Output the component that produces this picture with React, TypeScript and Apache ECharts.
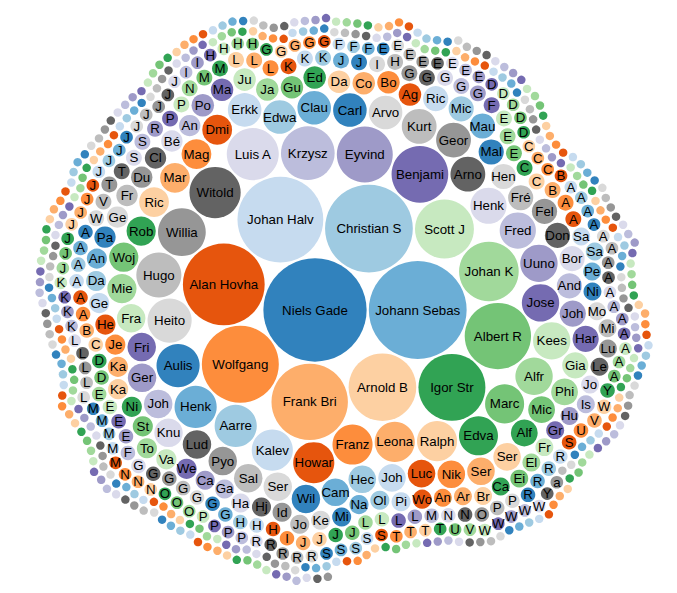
import React, { useEffect, useRef } from "react";
import * as echarts from "echarts";

// Category20c palette, applied by rank
const palette = [
  "#3182bd", "#6baed6", "#9ecae1", "#c6dbef",
  "#e6550d", "#fd8d3c", "#fdae6b", "#fdd0a2",
  "#31a354", "#74c476", "#a1d99b", "#c7e9c0",
  "#756bb1", "#9e9ac8", "#bcbddc", "#dadaeb",
  "#636363", "#969696", "#bdbdbd", "#d9d9d9",
];

// Labelled bubbles, in descending order of size (truncated names as shown)
const bigNames = [
  "Niels Gade", "Johann Sebas", "Christian S", "Johan Halv", "Alan Hovha", "Wolfgang", "Frank Bri", "Arnold B", "Igor Str", "Albert R",
  "Johan K", "Scott J", "Benjami", "Eyvind", "Krzysz", "Luis A", "Witold", "Willia", "Hugo", "Heito",
  "Aulis", "Henk", "Aarre", "Kalev", "Howar", "Franz", "Leona", "Ralph", "Edva", "Marc",
  "Alfr", "Kees", "Jose", "Uuno", "Fred", "Henk", "Arno", "Geor", "Kurt", "Arvo",
  "Carl", "Clau", "Edwa", "Erkk", "Dmi", "Mag", "Mar", "Ric", "Rob", "Woj",
  "Mie", "Fra", "Fri", "Ger", "Joh", "Knu", "Lud", "Pyo", "Sal", "Ser",
  "Wil", "Cam", "Hec", "Joh", "Luc", "Nik", "Ser", "Ser", "Alf", "Mic",
  "Phi", "Gia", "Har", "Joh", "And", "Bor", "Don", "Fel", "Fré", "Hen",
  "Mal", "Mau", "Mic", "Ric", "Ag", "Bo", "Co", "Da", "Ed", "Gu",
  "Ja", "Ju", "Ma", "Po", "An", "Bé", "Cl", "Du", "Fr", "Ge",
  "Pa", "An", "Da", "Ge", "He", "Je", "Ka", "Ka", "Ni", "St",
  "To", "Va", "We", "Ca", "Ga", "Ha", "Hj", "Id", "Jo", "Ke",
  "Mi", "Na", "Ol", "Pi", "Wo", "An", "Ar", "Br", "Ca", "Ei",
  "El", "Fr", "Gr", "Hu", "Is", "Jo", "Le", "Lu", "Mi", "Mo",
  "Ni", "Pe", "Sa", "Sa",
];
const bigValues = [
  126, 113, 91, 87, 79, 70, 69, 54, 53, 52,
  42, 41, 38, 37, 34, 32, 31, 27, 24, 23,
  22, 21, 21, 20, 20, 19, 19, 19, 18, 18,
  16.5, 16.5, 16.5, 16.5, 15.5, 15.5, 14.3, 14.3, 14.3, 13.3,
  13.3, 13.3, 13.3, 13.3, 10.5, 10.5, 10.5, 10.5, 10.1, 10.1,
  10.1, 9.6, 9.6, 9.6, 9.6, 9.6, 9.6, 9.6, 9.6, 9.6,
  9.6, 9.0, 9.0, 9.0, 9.0, 9.0, 9.0, 9.0, 8.5, 8.5,
  8.5, 8.1, 8.1, 8.1, 7.5, 7.5, 7.5, 7.5, 7.5, 7.5,
  7.5, 7.5, 7.5, 7.5, 6.0, 6.0, 6.0, 6.0, 6.0, 6.0,
  6.0, 6.0, 6.0, 6.0, 5.4, 5.4, 5.4, 5.4, 5.4, 5.4,
  5.4, 4.8, 4.8, 4.8, 4.8, 4.8, 4.8, 4.8, 4.8, 4.8,
  4.8, 4.8, 4.8, 4.3, 4.3, 4.3, 4.3, 4.3, 4.3, 4.3,
  4.3, 4.3, 4.3, 4.3, 4.3, 3.8, 3.8, 3.8, 3.8, 3.8,
  3.8, 3.8, 3.8, 3.8, 3.8, 3.8, 3.8, 3.8, 3.8, 3.8,
  3.8, 3.8, 3.8, 3.8,
];

// Single-letter tiers (all bubbles in a tier share one value)
const tierA1Names = ["A", "A", "B", "C", "C", "E", "E", "E", "F", "G", "G", "G", "G", "G", "H", "I", "J", "J", "K", "K", "K", "L", "L", "L", "M", "M", "N", "P", "P", "R", "S", "S", "T", "T", "V", "W"];
const tierA1Value = 3.0;
const tierA2Names = ["A", "A", "A", "A", "A", "A", "B", "C", "D", "D", "E", "E", "E", "E", "F", "G", "G", "G", "G", "G", "G", "G", "H", "H", "H", "I", "J", "J", "J", "J", "L", "L", "L", "L", "M", "N", "N", "O", "P", "P", "R", "R", "R", "R", "S", "U", "V", "W", "Y"];
const tierA2Value = 2.5;
const tierBNames = [
  "A", "A", "A", "A", "A", "A", "A", "A", "A", "A", "A", "A", "A", "A", "A", "B", "C", "C", "C", "D", "D", "D", "D", "D",
  "E", "E", "E", "E", "E", "E", "E", "E", "F", "F", "F", "G", "G", "G", "G", "G", "H", "H", "H", "H", "I", "I",
  "J", "J", "J", "J", "J", "J", "J", "J", "J", "J", "J", "J", "J", "J", "J", "J", "K", "K", "K", "K",
  "L", "L", "L", "L", "L", "M", "M", "M", "M", "M", "N", "N", "N", "O", "O", "O", "P", "P", "P", "P",
  "R", "R", "R", "R", "R", "S", "S", "S", "S", "S", "T", "T", "T", "T", "U", "V", "W", "W", "W", "W", "W", "Y", "a",
];
const tierBValue = 1.9;

// Unlabelled smallest bubbles
const dotValues = [
  0.85, 0.85, 0.85, 0.85, 0.85, 0.85, 0.85, 0.85, 0.85, 0.85, 0.85, 0.85, 0.85, 0.85, 0.85, 0.85, 0.85, 0.85, 0.85, 0.85,
  0.85, 0.85, 0.85, 0.85, 0.85, 0.85, 0.85, 0.85, 0.85, 0.85, 0.85, 0.85, 0.85, 0.85, 0.85, 0.85, 0.85, 0.85, 0.85, 0.85,
  0.85, 0.85, 0.85, 0.85, 0.85, 0.85, 0.85, 0.85, 0.85, 0.85, 0.85, 0.85, 0.85, 0.85, 0.85, 0.85, 0.85, 0.85, 0.85, 0.85,
  0.85, 0.85, 0.85, 0.85, 0.85, 0.85, 0.85, 0.85, 0.85, 0.85, 0.85, 0.85, 0.85, 0.85, 0.85, 0.85, 0.85, 0.85, 0.85, 0.85,
  0.85, 0.85, 0.85, 0.85, 0.85, 0.85, 0.85, 0.85, 0.85, 0.85, 0.85, 0.85, 0.85, 0.85, 0.85, 0.85, 0.85, 0.85, 0.85, 0.85,
  0.85, 0.85, 0.85, 0.85, 0.85, 0.85, 0.85, 0.85, 0.85, 0.85, 0.85, 0.85, 0.85, 0.85, 0.85, 0.85, 0.85, 0.85, 0.85, 0.85,
  0.85, 0.85, 0.85, 0.85, 0.85, 0.85, 0.85, 0.85, 0.85, 0.85, 0.85, 0.85, 0.85, 0.85, 0.85, 0.85, 0.85, 0.85, 0.85, 0.85,
  0.85, 0.85, 0.85, 0.85, 0.85, 0.85, 0.85, 0.85, 0.85, 0.85, 0.85, 0.85, 0.85, 0.85, 0.85, 0.85, 0.85, 0.85, 0.85, 0.85,
  0.85, 0.85, 0.85, 0.85, 0.85, 0.85, 0.85, 0.85, 0.85, 0.85, 0.85, 0.85, 0.85, 0.85, 0.85, 0.85, 0.85, 0.85, 0.85, 0.85,
  0.85, 0.85, 0.85, 0.85, 0.85, 0.85, 0.85, 0.85, 0.85, 0.85, 0.85, 0.85, 0.85, 0.85, 0.85, 0.85, 0.85, 0.85, 0.85, 0.85,
  0.85, 0.85, 0.85, 0.85, 0.85, 0.85, 0.85, 0.85, 0.85, 0.85, 0.85, 0.85, 0.85, 0.85, 0.85, 0.85, 0.85, 0.85, 0.85, 0.85,
  0.85, 0.85, 0.85, 0.85, 0.85, 0.85, 0.85, 0.85, 0.85, 0.85, 0.85, 0.85, 0.85, 0.85, 0.85, 0.85, 0.85, 0.85, 0.85, 0.85,
  0.85, 0.85, 0.85, 0.85, 0.85, 0.85, 0.85, 0.85, 0.85, 0.85, 0.85, 0.85, 0.85, 0.85, 0.85, 0.85, 0.85, 0.85, 0.85, 0.85,
  0.85, 0.85, 0.85, 0.85, 0.85, 0.85, 0.85, 0.85, 0.85, 0.85, 0.85, 0.85, 0.85, 0.85, 0.85, 0.85, 0.85, 0.85, 0.85, 0.85,
  0.85, 0.85, 0.85, 0.85, 0.85, 0.85, 0.85, 0.85, 0.85, 0.85, 0.85, 0.85, 0.85, 0.85, 0.85, 0.85, 0.85, 0.85, 0.85, 0.85,
  0.85, 0.85, 0.85, 0.85, 0.85, 0.85, 0.85, 0.85, 0.85, 0.85, 0.85, 0.85, 0.85, 0.85, 0.85, 0.85, 0.85, 0.85, 0.85, 0.85,
];

// ---------- spiral sibling packing (classic front-chain pack) ----------
type PNode = { x: number; y: number; r: number; next: PNode; prev: PNode };

function packPlace(a: PNode, b: PNode, c: PNode) {
  let db = a.r + c.r;
  const dx = b.x - a.x, dy = b.y - a.y;
  if (db && (dx || dy)) {
    let da = b.r + c.r;
    const dc = dx * dx + dy * dy;
    da *= da;
    db *= db;
    const x = 0.5 + (db - da) / (2 * dc);
    const db2 = db - dc;
    const y = Math.sqrt(Math.max(0, 2 * da * (db + dc) - db2 * db2 - da * da)) / (2 * dc);
    c.x = a.x + x * dx + y * dy;
    c.y = a.y + x * dy - y * dx;
  } else {
    c.x = a.x + db;
    c.y = a.y;
  }
}
function packIntersects(a: PNode, b: PNode) {
  const dx = b.x - a.x, dy = b.y - a.y, dr = a.r + b.r;
  return 0.999 * dr * dr > dx * dx + dy * dy;
}
function packInsert(a: PNode, b: PNode) {
  const c = a.next;
  a.next = b;
  b.prev = a;
  b.next = c;
  c.prev = b;
}
function packSiblings(nodes: PNode[]) {
  const n = nodes.length;
  nodes.forEach((d) => { d.next = d; d.prev = d; });
  let a = nodes[0];
  a.x = -a.r; a.y = 0;
  let b = nodes[1];
  b.x = b.r; b.y = 0;
  let c = nodes[2];
  packPlace(a, b, c);
  packInsert(a, c);
  a.prev = c;
  packInsert(c, b);
  b = a.next;
  for (let i = 3; i < n; i++) {
    c = nodes[i];
    packPlace(a, b, c);
    let isect = false, s1 = 1, s2 = 1;
    let j = b.next;
    for (; j !== b; j = j.next, s1++) {
      if (packIntersects(j, c)) { isect = true; break; }
    }
    let k = a.prev;
    if (isect) {
      for (; k !== j.prev; k = k.prev, s2++) {
        if (packIntersects(k, c)) break;
      }
    }
    if (isect) {
      if (s1 < s2 || (s1 === s2 && b.r < a.r)) {
        b = j; a.next = b; b.prev = a;
      } else {
        a = k; a.next = b; b.prev = a;
      }
      i--;
    } else {
      packInsert(a, c);
      b = c;
    }
  }
}

const PX_PER_SQRT = 4.6; // radius in px for a value of 1
const GAP = 1.1;         // padding added to every radius while packing
const ANCHOR_X = 315;    // where the largest bubble sits
const ANCHOR_Y = 310;

function buildLayout() {
  const labels: string[] = [];
  const values: number[] = [];
  bigNames.forEach((n, i) => { labels.push(n); values.push(bigValues[i]); });
  tierA1Names.forEach((n) => { labels.push(n); values.push(tierA1Value); });
  tierA2Names.forEach((n) => { labels.push(n); values.push(tierA2Value); });
  tierBNames.forEach((n) => { labels.push(n); values.push(tierBValue); });
  dotValues.forEach((v) => { labels.push(""); values.push(v); });
  const nodes: PNode[] = values.map((v) => ({ x: 0, y: 0, r: PX_PER_SQRT * Math.sqrt(v) + GAP } as PNode));
  packSiblings(nodes);
  const ox = nodes[0].x, oy = nodes[0].y;
  const pts = nodes.map((c, i) => [
    c.x - ox + ANCHOR_X,
    c.y - oy + ANCHOR_Y,
    c.r - GAP,
    i,
  ]);
  return { labels, pts };
}

export default function App() {
  const ref = useRef<HTMLDivElement>(null);
  useEffect(() => {
    if (!ref.current) return;
    const chart = echarts.init(ref.current, undefined, { renderer: "svg" });
    const { labels, pts } = buildLayout();
    chart.setOption({
      animation: false,
      grid: { left: 0, right: 0, top: 0, bottom: 0 },
      xAxis: { type: "value", min: 0, max: 677, show: false },
      yAxis: { type: "value", min: 0, max: 593, inverse: true, show: false },
      series: [
        {
          type: "custom",
          silent: true,
          data: pts,
          renderItem: (params: any, api: any) => {
            const p = api.coord([api.value(0), api.value(1)]);
            const rr = api.size([api.value(2), 0])[0];
            return {
              type: "circle",
              shape: { cx: p[0], cy: p[1], r: rr },
              style: { fill: palette[params.dataIndex % 20] },
            };
          },
        },
        {
          type: "custom",
          silent: true,
          data: pts,
          renderItem: (params: any, api: any) => {
            const label = labels[params.dataIndex];
            if (!label) return null;
            const p = api.coord([api.value(0), api.value(1)]);
            return {
              type: "text",
              x: p[0],
              y: p[1],
              style: {
                text: label,
                fill: "#000",
                fontSize: 13.3,
                fontFamily: '"Liberation Sans", Arial, sans-serif',
                align: "center",
                verticalAlign: "middle",
              },
            };
          },
        },
      ],
    });
    return () => chart.dispose();
  }, []);
  return (
    <div
      ref={ref}
      style={{ position: "absolute", left: 0, top: 0, width: 677, height: 593 }}
    />
  );
}
